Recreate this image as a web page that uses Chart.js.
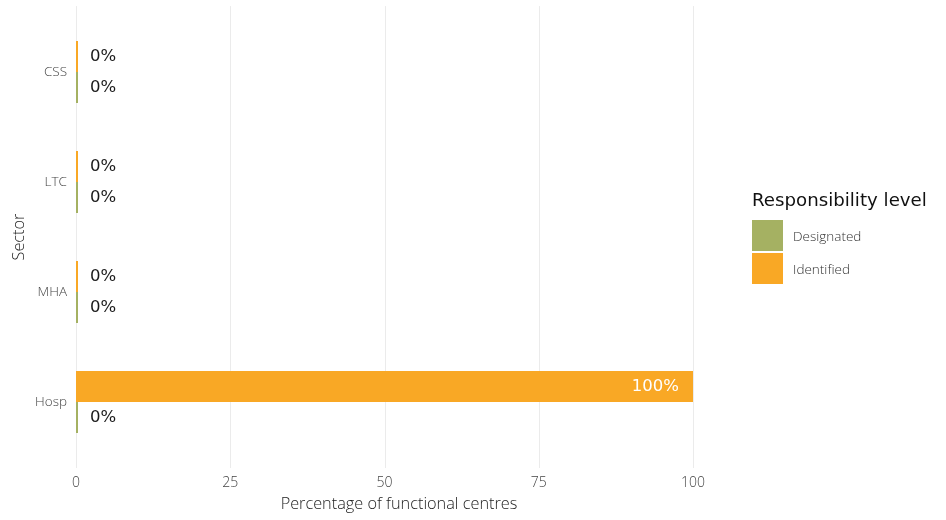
<!DOCTYPE html>
<html>
<head>
<meta charset="utf-8">
<script src="https://cdn.jsdelivr.net/npm/chart.js@4.4.1/dist/chart.umd.min.js"></script>
<style>
    html, body { margin: 0; padding: 0; background: #fff; }
    #wrap { position: relative; width: 946px; height: 520px; }
    #legend { position: absolute; left: 752px; top: 187px; font-family: 'Open Sans', sans-serif; }
    #legend .lg-title { font-family: 'DejaVu Sans', sans-serif; font-size: 18.2px; color: #111; line-height: 26px; margin-bottom: 6px; white-space: nowrap; }
    #legend .lg-item { display: flex; align-items: center; height: 33px; }
    #legend .lg-box { width: 31px; height: 31px; margin-right: 9px; border: 1px solid #fff; box-sizing: content-box; margin-left: -1px; }
    #legend .lg-label { font-size: 13.5px; color: #333; font-weight: 300; }
</style>
</head>
<body>
<div id="wrap">
    <canvas id="chart" width="946" height="520"></canvas>
    <div id="legend"></div>
</div>
<script>
// data
const sectors = ['CSS', 'LTC', 'MHA', 'Hosp'];
const designated = [0, 0, 0, 0];
const identified = [0, 0, 0, 100];
const xTicks = [0, 25, 50, 75, 100];

const legendTitle = 'Responsibility level';
const seriesNames = ['Designated', 'Identified'];
const seriesColors = { Designated: '#a5b162', Identified: '#f9a825' };
const FONT = "'Open Sans', sans-serif";
const LABEL_FONT = "'DejaVu Sans', sans-serif";

// vertical grid lines, a bit longer than the chart area (ggplot style)
const xGrid = {
    id: 'xGrid',
    beforeDatasetsDraw(chart) {
        const { ctx, chartArea, scales: { x } } = chart;
        ctx.save();
        ctx.strokeStyle = '#ebebeb';
        ctx.lineWidth = 1;
        x.ticks.forEach(t => {
            const px = Math.round(x.getPixelForValue(t.value)) + 0.5;
            ctx.beginPath();
            ctx.moveTo(px, chartArea.top - 11);
            ctx.lineTo(px, chartArea.bottom + 11);
            ctx.stroke();
        });
        ctx.restore();
    }
};

// value labels next to / inside bars
const barLabels = {
    id: 'barLabels',
    afterDatasetsDraw(chart) {
        const ctx = chart.ctx;
        ctx.save();
        ctx.font = '16.5px ' + LABEL_FONT;
        ctx.textBaseline = 'middle';
        chart.data.datasets.forEach((ds, di) => {
            chart.getDatasetMeta(di).data.forEach((bar, i) => {
                const v = ds.data[i];
                const txt = v + '%';
                if (v > 50) {
                    ctx.fillStyle = '#ffffff';
                    ctx.textAlign = 'right';
                    ctx.fillText(txt, bar.x - 14, bar.y);
                } else {
                    ctx.fillStyle = '#1a1a1a';
                    ctx.textAlign = 'left';
                    ctx.fillText(txt, bar.x + 12, bar.y);
                }
            });
        });
        ctx.restore();
    }
};

const chart = new Chart(document.getElementById('chart').getContext('2d'), {
    type: 'bar',
    data: {
        labels: sectors,
        datasets: [
            { label: 'Identified', data: identified, backgroundColor: seriesColors.Identified },
            { label: 'Designated', data: designated, backgroundColor: seriesColors.Designated }
        ]
    },
    options: {
        indexAxis: 'y',
        responsive: false,
        animation: false,
        datasets: { bar: { categoryPercentage: 0.564, barPercentage: 1, minBarLength: 2 } },
        layout: { padding: { top: 16, right: 224, bottom: 0, left: 0 } },
        plugins: { legend: { display: false }, tooltip: { enabled: false } },
        scales: {
            x: {
                min: 0,
                max: 104.7,
                afterBuildTicks: s => { s.ticks = xTicks.map(v => ({ value: v })); },
                afterFit: s => { s.height = 63; },
                grid: { display: false, drawTicks: false },
                border: { display: false },
                ticks: { padding: 18, color: '#444', font: { family: FONT, size: 14, weight: 300 } },
                title: {
                    display: true, text: 'Percentage of functional centres', color: '#222',
                    font: { family: FONT, size: 16.3, weight: 300 }, padding: { top: 0, bottom: 6 }
                }
            },
            y: {
                afterFit: s => { s.width = 76; },
                grid: { display: false, drawTicks: false },
                border: { display: false },
                ticks: { padding: 9, color: '#444', font: { family: FONT, size: 13.5, weight: 300 } },
                title: {
                    display: true, text: 'Sector', color: '#222',
                    font: { family: FONT, size: 16.3, weight: 300 }, padding: { top: 10, bottom: 0 }
                }
            }
        }
    },
    plugins: [xGrid, barLabels]
});

// legend
const legend = document.getElementById('legend');
legend.innerHTML = `<div class="lg-title">${legendTitle}</div>` +
    seriesNames.map(n => `
        <div class="lg-item">
            <div class="lg-box" style="background:${seriesColors[n]}"></div>
            <span class="lg-label">${n}</span>
        </div>`).join('');
</script>
</body>
</html>
